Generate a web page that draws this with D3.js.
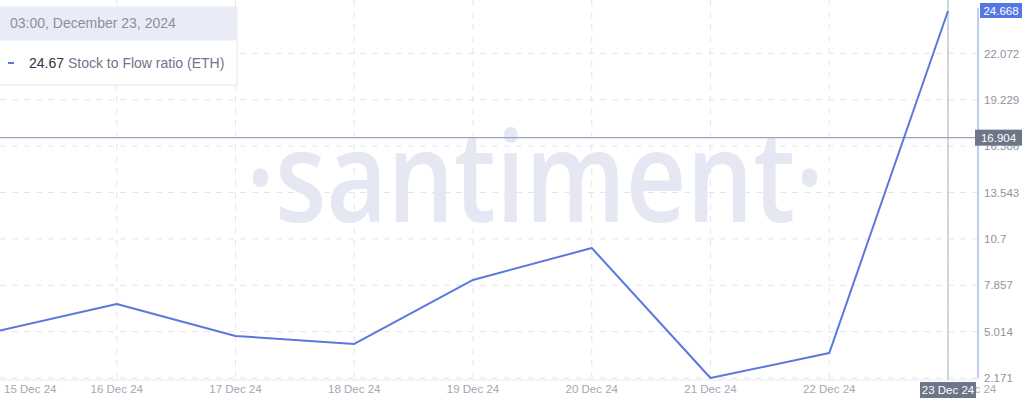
<!DOCTYPE html>
<html>
<head>
<meta charset="utf-8">
<script src="https://cdn.jsdelivr.net/npm/d3@7"></script>
<style>
  html, body { margin: 0; padding: 0; background: #fff; }
  svg { display: block; font-family: "Liberation Sans", Arial, Helvetica, sans-serif; }
</style>
</head>
<body>
<svg id="chart" width="1024" height="400"></svg>
<script>
const dates = ["2024-12-15","2024-12-16","2024-12-17","2024-12-18","2024-12-19","2024-12-20","2024-12-21","2024-12-22","2024-12-23"];
const values = [5.05, 6.71, 4.75, 4.26, 8.18, 10.14, 2.171, 3.70, 24.668];
const dateLabels = ["15 Dec 24","16 Dec 24","17 Dec 24","18 Dec 24","19 Dec 24","20 Dec 24","21 Dec 24","22 Dec 24","23 Dec 24"];
const yTicks = [2.171, 5.014, 7.857, 10.7, 13.543, 16.386, 19.229, 22.072];
const yMax = 24.668;
const crossValue = 16.904;
const tooltipTitle = "03:00, December 23, 2024";
const tooltipValue = "24.67";
const seriesName = "Stock to Flow ratio (ETH)";

const parse = d3.utcParse("%Y-%m-%d");
const data = dates.map((d, i) => ({ date: parse(d), value: values[i], label: dateLabels[i] }));

const svg = d3.select("#chart");
const axisX = 978, baseY = 380;

const x = d3.scaleUtc().domain([data[0].date, data[data.length - 1].date]).range([-2, 948]);
const y = d3.scaleLinear().domain([2.171, yMax]).range([378, 11]);

const LINE = "#5b78de";
const GRID = "#e3e6ed";

// grid
const g = svg.append("g");
g.selectAll(".hg").data(yTicks).enter().append("line")
  .attr("x1", 0).attr("x2", axisX)
  .attr("y1", d => y(d)).attr("y2", d => y(d))
  .attr("stroke", GRID).attr("stroke-dasharray", "6,6").attr("stroke-width", 1);
g.selectAll(".vg").data(data).enter().append("line")
  .attr("x1", d => x(d.date)).attr("x2", d => x(d.date))
  .attr("y1", 0).attr("y2", baseY)
  .attr("stroke", GRID).attr("stroke-dasharray", "6,6").attr("stroke-width", 1);

// watermark
const wmG = svg.append("g").attr("transform", "translate(535,222) scale(1,1.2)");
const wm = wmG.append("text")
  .attr("x", 0).attr("y", 0)
  .attr("text-anchor", "middle")
  .attr("fill", "#e5e8f3")
  .style("font-family", "'Open Sans', sans-serif")
  .style("font-weight", "600")
  .style("font-size", "130px")
  .text("\u00B7santiment\u00B7");
const wl = wm.node().getComputedTextLength();
wm.style("font-size", (130 * 578 / wl) + "px");

// bottom axis line
svg.append("line").attr("x1", 0).attr("x2", axisX).attr("y1", baseY).attr("y2", baseY)
  .attr("stroke", "#e8eaef").attr("stroke-width", 1);

// x labels
svg.selectAll(".xl").data(data).enter().append("text")
  .attr("x", (d, i) => i === 0 ? 4 : (i === data.length - 1 ? x(d.date) + 22 : x(d.date)))
  .attr("y", 393)
  .attr("text-anchor", (d, i) => i === 0 ? "start" : "middle")
  .attr("fill", "#a3a8b4")
  .style("font-size", "11.5px")
  .text(d => d.label);

// right axis
svg.append("line").attr("x1", axisX).attr("x2", axisX).attr("y1", 8).attr("y2", 378)
  .attr("stroke", "#aabbe6").attr("stroke-width", 1.5);
const yAxis = d3.axisRight(y).tickValues(yTicks).tickSize(0).tickPadding(6).tickFormat(d => String(d));
const ya = svg.append("g").attr("transform", `translate(${axisX},0)`).call(yAxis);
ya.select(".domain").remove();
ya.selectAll("text").attr("fill", "#8f94a0").style("font-size", "11.5px")
  .style("font-family", "'Liberation Sans', Arial, sans-serif");

// crosshair
svg.append("line").attr("x1", x(data[8].date)).attr("x2", x(data[8].date)).attr("y1", 0).attr("y2", baseY)
  .attr("stroke", "#b9bdc9").attr("stroke-width", 1.2);
svg.append("line").attr("x1", 0).attr("x2", axisX).attr("y1", y(crossValue)).attr("y2", y(crossValue))
  .attr("stroke", "#9ca5c0").attr("stroke-width", 1.2);

// series line
svg.append("path").datum(data)
  .attr("fill", "none").attr("stroke", LINE).attr("stroke-width", 2).attr("stroke-linejoin", "round")
  .attr("d", d3.line().x(d => x(d.date)).y(d => y(d.value)));

// value tag (max)
svg.append("rect").attr("x", 980).attr("y", y(yMax) - 8).attr("width", 42).attr("height", 15).attr("fill", "#5677e2");
svg.append("text").attr("x", 1001).attr("y", y(yMax) + 4).attr("text-anchor", "middle")
  .attr("fill", "#fff").style("font-size", "11.5px").text(String(yMax));

// crosshair value tag
svg.append("rect").attr("x", 975).attr("y", y(crossValue) - 8).attr("width", 47).attr("height", 16).attr("fill", "#6d7689");
svg.append("text").attr("x", 998.5).attr("y", y(crossValue) + 4).attr("text-anchor", "middle")
  .attr("fill", "#fff").style("font-size", "11.5px").text(String(crossValue));

// date tag
svg.append("rect").attr("x", 920).attr("y", 382).attr("width", 56).attr("height", 16).attr("fill", "#6d7689");
svg.append("text").attr("x", 948).attr("y", 394).attr("text-anchor", "middle")
  .attr("fill", "#fff").style("font-size", "11.5px").text(dateLabels[8]);

// tooltip
const tt = svg.append("g");
tt.append("rect").attr("x", -1).attr("y", 7).attr("width", 238).attr("height", 78)
  .attr("fill", "#fff").attr("stroke", "#e2e5ec").attr("stroke-width", 1);
tt.append("rect").attr("x", -0.5).attr("y", 7.5).attr("width", 237).attr("height", 33)
  .attr("fill", "#e9ecf6");
tt.append("text").attr("x", 10).attr("y", 28).attr("fill", "#8a8fa0")
  .style("font-size", "14px").text(tooltipTitle);
tt.append("line").attr("x1", 8).attr("x2", 14).attr("y1", 63).attr("y2", 63)
  .attr("stroke", LINE).attr("stroke-width", 2);
const row = tt.append("text").attr("x", 29).attr("y", 68).style("font-size", "14px");
row.append("tspan").attr("fill", "#2f3340").text(tooltipValue);
row.append("tspan").attr("fill", "#70758a").text(" " + seriesName);
</script>
</body>
</html>
